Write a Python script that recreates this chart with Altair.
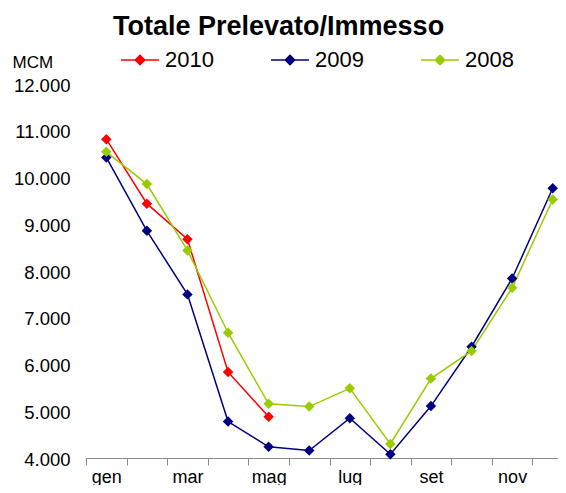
import altair as alt
import pandas as pd

months = ["gen", "feb", "mar", "apr", "mag", "giu", "lug", "ago", "set", "ott", "nov", "dic"]
shown_months = ["gen", "mar", "mag", "lug", "set", "nov"]
y2010 = [10820, 9440, 8680, 5840, 4880]
y2009 = [10430, 8860, 7500, 4780, 4240, 4160, 4850, 4080, 5110, 6380, 7840, 9770]
y2008 = [10550, 9860, 8440, 6680, 5160, 5100, 5490, 4300, 5700, 6290, 7640, 9530]
years = ["2010", "2009", "2008"]
colors = ["#FF0000", "#000080", "#99CC00"]
y_ticks = [4000, 5000, 6000, 7000, 8000, 9000, 10000, 11000, 12000]

rows = []
for yr, vals in zip(years, [y2010, y2009, y2008]):
    for m, v in zip(months, vals):
        rows.append({"mese": m, "valore": v, "anno": yr})
df = pd.DataFrame(rows)

FONT = "Liberation Sans"

x_enc = alt.X(
    "mese:N",
    sort=months,
    scale=alt.Scale(type="band", domain=months, range=[0, 487], paddingInner=0, paddingOuter=0),
    axis=alt.Axis(
        title=None,
        tickBand="extent",
        labelAngle=0,
        labelExpr="indexof(" + str(shown_months) + ", datum.value) >= 0 ? datum.value : ''",
        labelFont=FONT,
        labelFontSize=18,
        labelColor="#000000",
        labelBaseline="alphabetic",
        labelPadding=17,
        tickSize=7,
        tickColor="#8c8c8c",
        domainColor="#8c8c8c",
        labelOverlap=False,
        grid=False,
    ),
)
y_enc = alt.Y(
    "valore:Q",
    scale=alt.Scale(domain=[4000, 12000], nice=False, zero=False),
    axis=alt.Axis(
        values=y_ticks,
        labelExpr="replace(format(datum.value, ','), ',', '.')",
        labelFont=FONT,
        labelFontSize=18.5,
        labelColor="#000000",
        labelPadding=16,
        labelOffset=1,
        ticks=False,
        domain=False,
        grid=False,
        title="MCM",
        titleFont=FONT,
        titleFontSize=17,
        titleFontWeight="normal",
        titleColor="#000000",
        titleAngle=0,
        titleAlign="left",
        titleBaseline="alphabetic",
        titleX=-74,
        titleY=-17,
    ),
)
color_enc = alt.Color(
    "anno:N",
    sort=years,
    scale=alt.Scale(domain=years, range=colors),
    legend=alt.Legend(
        title=None,
        orient="none",
        direction="horizontal",
        legendX=34,
        legendY=-44,
        symbolType="M-1,0L1,0M0,-0.25L0.25,0L0,0.25L-0.25,0Z",
        symbolSize=1444,
        symbolStrokeWidth=1.5,
        symbolOpacity=1,
        labelFont=FONT,
        labelFontSize=22,
        labelColor="#000000",
        labelOffset=5,
        columnPadding=54,
        padding=0,
    ),
)

base = alt.Chart(df).encode(x=x_enc, y=y_enc, color=color_enc)
lines = base.mark_line(strokeWidth=1.5)
points = base.mark_point(shape="diamond", filled=True, size=110, opacity=1)

chart = (
    alt.layer(lines, points)
    .properties(
        width=472,
        height=374,
        autosize=alt.AutoSizeParams(type="none"),
        padding={"left": 78, "top": 76, "right": 0, "bottom": 27},
        title=alt.TitleParams(
            "Totale Prelevato/Immesso",
            font=FONT,
            fontSize=27,
            fontWeight="bold",
            color="#000000",
            anchor="start",
            frame="group",
            dx=27,
            dy=22,
            offset=0,
            baseline="alphabetic",
        ),
    )
    .configure_view(stroke=None)
)

chart.save("out.html", embed_options={"renderer": "svg", "actions": False})
